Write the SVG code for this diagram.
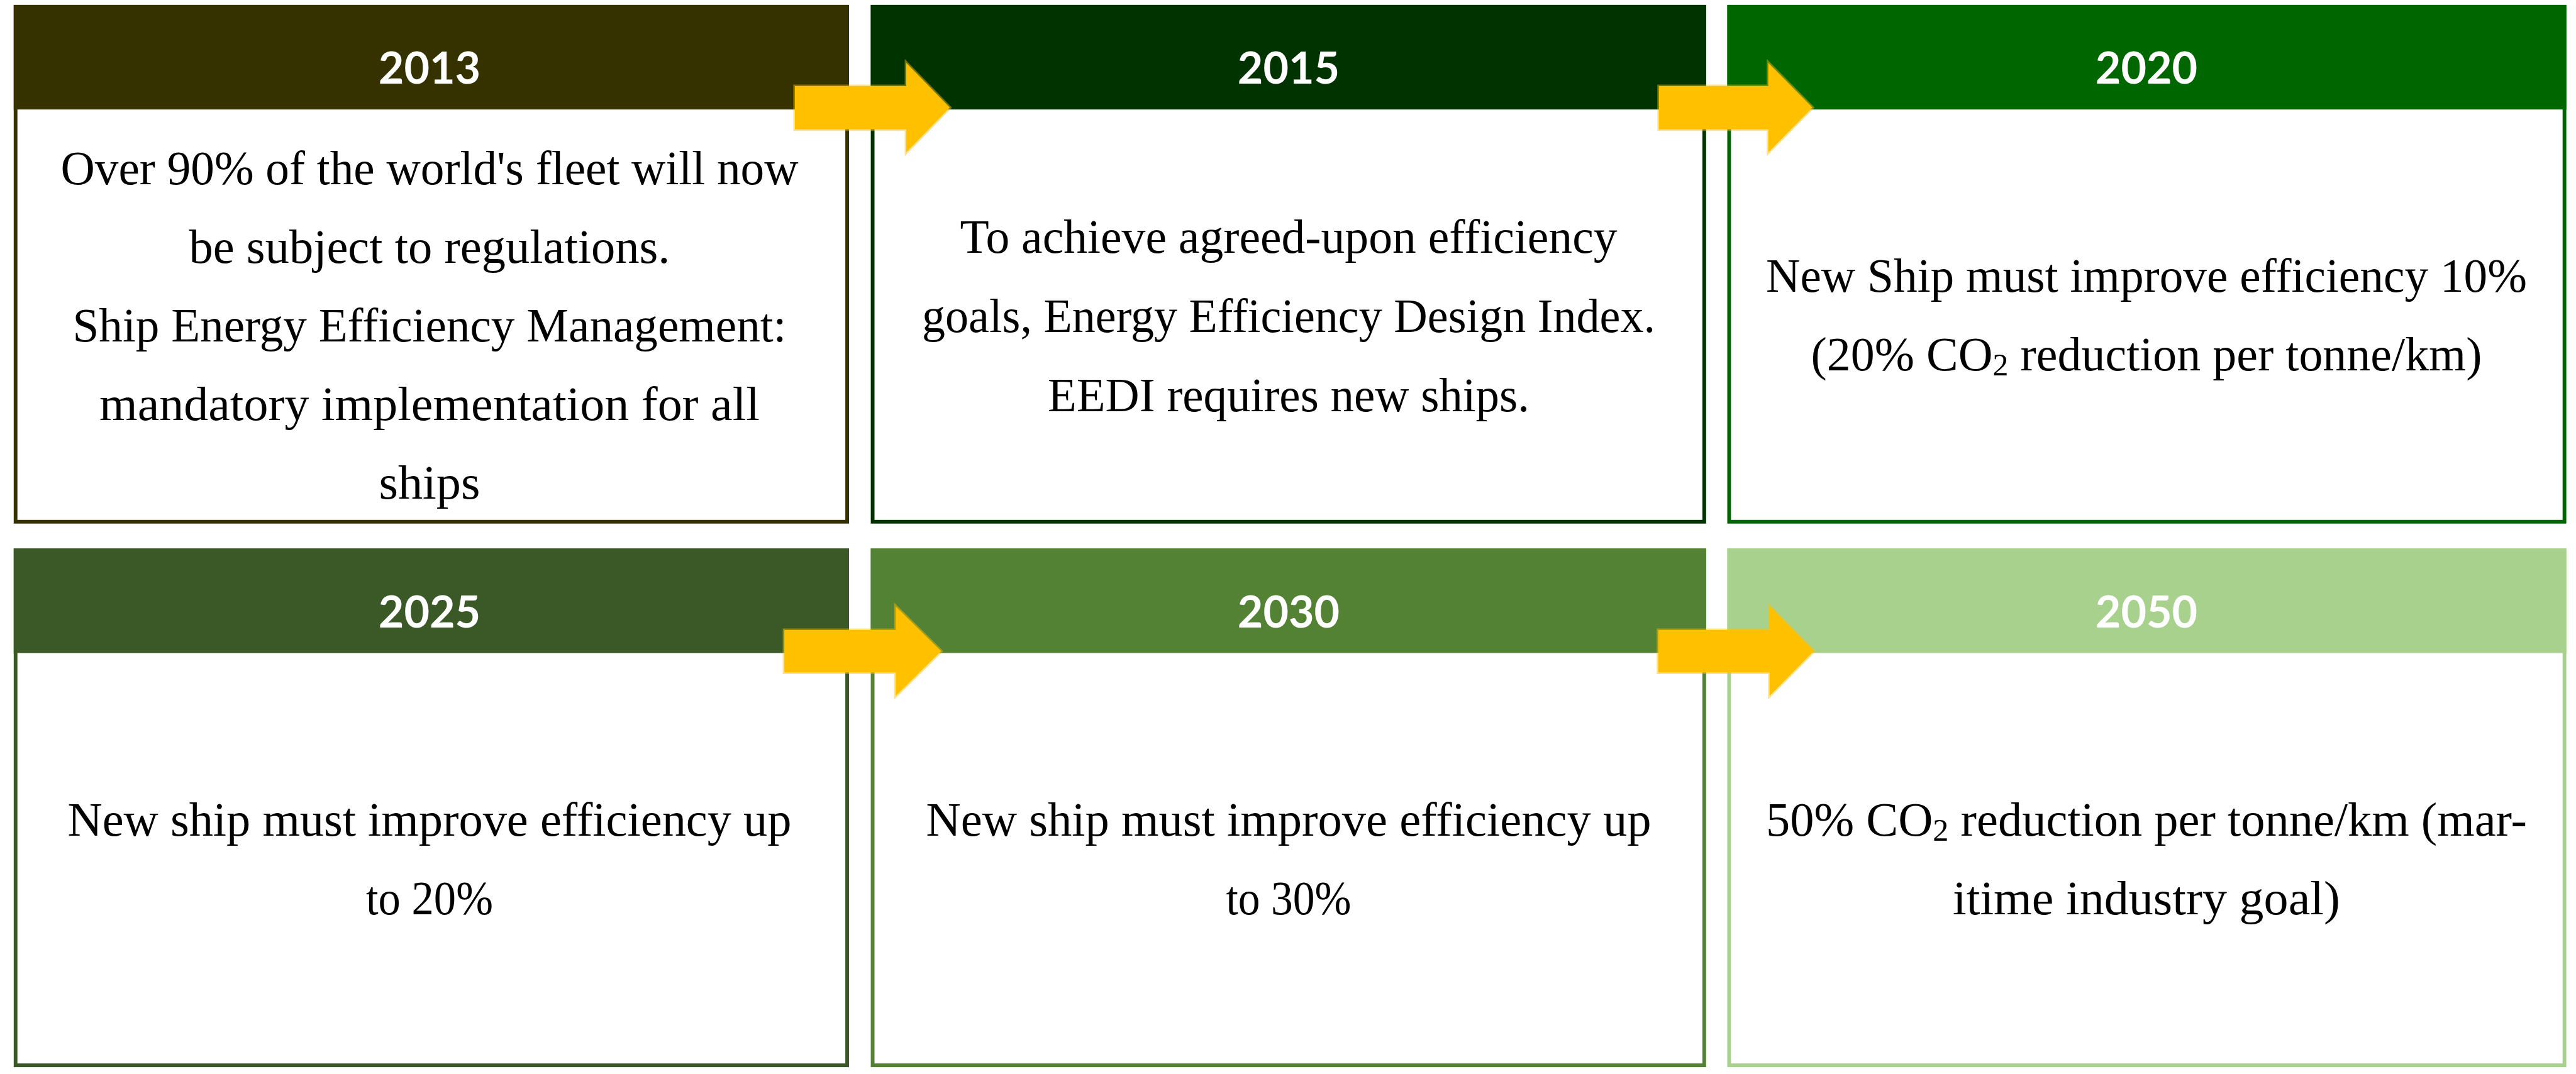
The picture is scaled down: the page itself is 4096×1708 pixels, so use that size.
<svg xmlns="http://www.w3.org/2000/svg" width="4096" height="1708" viewBox="0 0 4096 1708">
<style>
.yr { font-family: Lato, "Liberation Sans", sans-serif; font-weight: 700; font-size: 70px; fill: #ffffff; text-anchor: middle; }
.tx { font-family: "Liberation Serif", "DejaVu Serif", serif; font-size: 76px; fill: #000000; text-anchor: middle; }
.sub { font-size: 50px; }
.box { fill: #ffffff; stroke-width: 5.9; }
.arrow { fill: #FFC000; stroke: #FFC000; stroke-opacity: 0.45; stroke-width: 5; stroke-linejoin: miter; }
</style>
<rect x="0" y="0" width="4096" height="1708" fill="#ffffff"/>

<g id="node-2013">
  <rect class="box" x="24.75" y="10.85" width="1322.3" height="818.9" stroke="#363200"/>
  <rect x="21.8" y="7.9" width="1328.2" height="166.2" fill="#363200"/>
  <text class="yr" x="683" y="132.5">2013</text>
  <text class="tx" x="683" y="292.7" textLength="1173" lengthAdjust="spacingAndGlyphs">Over 90% of the world's fleet will now</text>
  <text class="tx" x="683" y="417.9" textLength="765" lengthAdjust="spacingAndGlyphs">be subject to regulations.</text>
  <text class="tx" x="683" y="543" textLength="1135" lengthAdjust="spacingAndGlyphs">Ship Energy Efficiency Management:</text>
  <text class="tx" x="683" y="668.1" textLength="1050" lengthAdjust="spacingAndGlyphs">mandatory implementation for all</text>
  <text class="tx" x="683" y="793.2" textLength="161" lengthAdjust="spacingAndGlyphs">ships</text>
</g>

<g id="node-2015">
  <rect class="box" x="1387.55" y="10.85" width="1322.3" height="818.9" stroke="#003300"/>
  <rect x="1384.6" y="7.9" width="1328.2" height="166.2" fill="#003300"/>
  <text class="yr" x="2049" y="132.5">2015</text>
  <text class="tx" x="2049" y="401.5" textLength="1045" lengthAdjust="spacingAndGlyphs">To achieve agreed-upon efficiency</text>
  <text class="tx" x="2049" y="528.1" textLength="1166" lengthAdjust="spacingAndGlyphs">goals, Energy Efficiency Design Index.</text>
  <text class="tx" x="2049" y="653.7" textLength="766" lengthAdjust="spacingAndGlyphs">EEDI requires new ships.</text>
</g>

<g id="node-2020">
  <rect class="box" x="2749.45" y="10.85" width="1328.2" height="818.9" stroke="#006600"/>
  <rect x="2746.5" y="7.9" width="1334.1" height="166.2" fill="#006600"/>
  <text class="yr" x="3413" y="132.5">2020</text>
  <text class="tx" x="3413" y="463.8" textLength="1210" lengthAdjust="spacingAndGlyphs">New Ship must improve efficiency 10%</text>
  <text class="tx" x="3413" y="589.4" textLength="1067" lengthAdjust="spacingAndGlyphs">(20% CO<tspan class="sub" dy="8">2</tspan><tspan dy="-8"> reduction per tonne/km)</tspan></text>
</g>

<g id="node-2025">
  <rect class="box" x="24.75" y="875.25" width="1322.3" height="818.9" stroke="#3B5926"/>
  <rect x="21.8" y="872.3" width="1328.2" height="166.2" fill="#3B5926"/>
  <text class="yr" x="683" y="997.9">2025</text>
  <text class="tx" x="683" y="1329.2" textLength="1151" lengthAdjust="spacingAndGlyphs">New ship must improve efficiency up</text>
  <text class="tx" x="683" y="1453.8" textLength="202" lengthAdjust="spacingAndGlyphs">to 20%</text>
</g>

<g id="node-2030">
  <rect class="box" x="1387.55" y="875.25" width="1322.3" height="818.9" stroke="#548235"/>
  <rect x="1384.6" y="872.3" width="1328.2" height="166.2" fill="#548235"/>
  <text class="yr" x="2049" y="997.9">2030</text>
  <text class="tx" x="2049" y="1329.2" textLength="1153" lengthAdjust="spacingAndGlyphs">New ship must improve efficiency up</text>
  <text class="tx" x="2049" y="1453.8" textLength="199" lengthAdjust="spacingAndGlyphs">to 30%</text>
</g>

<g id="node-2050">
  <rect class="box" x="2749.45" y="875.25" width="1328.2" height="818.9" stroke="#A9D18E"/>
  <rect x="2746.5" y="872.3" width="1334.1" height="166.2" fill="#A9D18E"/>
  <text class="yr" x="3413" y="997.9">2050</text>
  <text class="tx" x="3413" y="1329.2" textLength="1210" lengthAdjust="spacingAndGlyphs">50% CO<tspan class="sub" dy="8">2</tspan><tspan dy="-8"> reduction per tonne/km (mar-</tspan></text>
  <text class="tx" x="3413" y="1453.8" textLength="616" lengthAdjust="spacingAndGlyphs">itime industry goal)</text>
</g>

<g id="connectors">
  <polygon class="arrow" points="1263.9,137 1441,137 1441,99.9 1510.2,171.1 1441,242.3 1441,205.7 1263.9,205.7"/>
  <polygon class="arrow" points="2637.7,137 2811.7,137 2811.7,99.9 2881.9,171.1 2811.7,242.3 2811.7,205.7 2637.7,205.7"/>
  <polygon class="arrow" points="1247.1,1001.9 1424.2,1001.9 1424.2,964.3 1496.4,1035.5 1424.2,1106.7 1424.2,1069.6 1247.1,1069.6"/>
  <polygon class="arrow" points="2636.7,1001.9 2813.7,1001.9 2813.7,964.3 2883.9,1035.5 2813.7,1106.7 2813.7,1069.6 2636.7,1069.6"/>
</g>
</svg>
